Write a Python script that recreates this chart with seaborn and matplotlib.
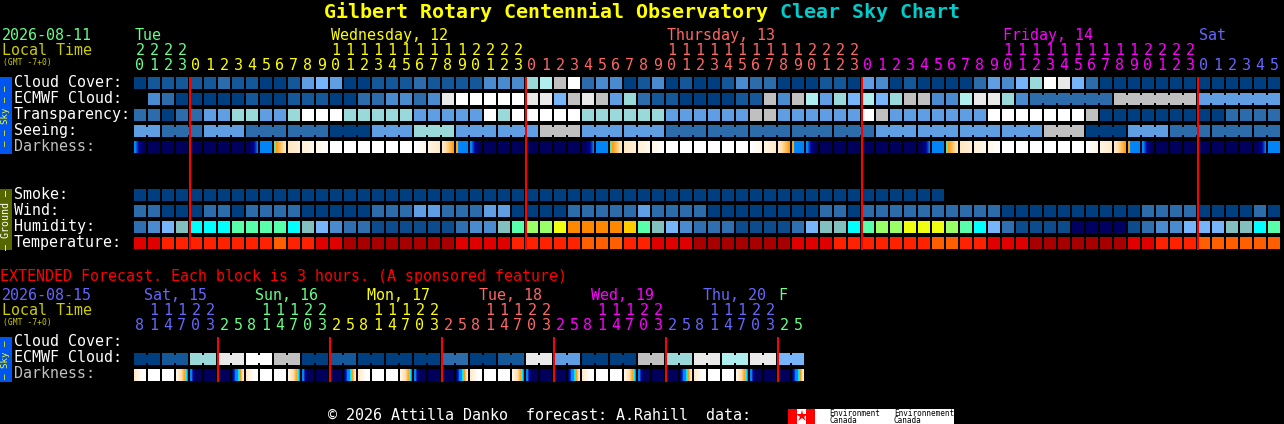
import numpy as np
import matplotlib
matplotlib.use("Agg")
import matplotlib.pyplot as plt
import seaborn as sns
from matplotlib.colors import ListedColormap, LinearSegmentedColormap
from matplotlib.patches import Rectangle

W, H = 1284, 424
FONT = "DejaVu Sans Mono"

# sky scale, dark blue -> white
sky_colors = ["#003f7f", "#14589a", "#2c6cab", "#4a8ace", "#5f9ee2", "#77b5fb",
              "#99d9d9", "#aeeeee", "#c0c0c0", "#e9e9e9", "#ffffff"]
# humidity scale
hum_colors = ["#000060", "#0d4c8c", "#2f6fb0", "#4a8ace", "#77b5fb", "#82c0c0",
              "#00ffff", "#58ffaa", "#99ff66", "#eeff11", "#ffcc00", "#ff8800"]
# temperature scale
temp_colors = ["#a80000", "#e00000", "#ff2200", "#ff5f00"]

day_green, day_yellow, day_salmon, day_magenta, day_blue = "#66ff88", "#ffff00", "#ff6666", "#ff00ff", "#6666ff"

hours = [20, 21, 22, 23, 0, 1, 2, 3, 4, 5, 6, 7, 8, 9, 10, 11, 12, 13, 14, 15, 16, 17, 18, 19,
         20, 21, 22, 23, 0, 1, 2, 3, 4, 5, 6, 7, 8, 9, 10, 11, 12, 13, 14, 15, 16, 17, 18, 19,
         20, 21, 22, 23, 0, 1, 2, 3, 4, 5, 6, 7, 8, 9, 10, 11, 12, 13, 14, 15, 16, 17, 18, 19,
         20, 21, 22, 23, 0, 1, 2, 3, 4, 5]
midnight_cols = [4, 28, 52, 76]
day_labels = [("Tue", 0, day_green), ("Wednesday, 12", 14, day_yellow), ("Thursday, 13", 38, day_salmon),
              ("Friday, 14", 62, day_magenta), ("Sat", 76, day_blue)]

cloud = [0, 1, 1, 1, 1, 1, 2, 1, 1, 0, 0, 1, 4, 5, 4, 0, 0, 1, 1, 1, 2,
         1, 1, 1, 1, 3, 3, 3, 6, 7, 8, 10, 2, 3, 3, 0, 1, 3, 0, 1, 0, 0, 1, 3, 2, 2, 0, 0, 0, 1, 1, 0,
         4, 3, 0, 1, 0, 0, 0, 0, 2, 4, 3, 5, 6, 10, 9, 5, 2, 0, 0, 0, 0, 0, 0, 0, 0, 0, 0, 0, 0, 0]
ecmwf = [None, 3, 2, 0, 0, 0, 0, 0, 1, 0, 0, 1, 1, 1, 0, 0, 2, 2, 3, 3, 2,
         3, 9, 10, 10, 10, 10, 10, 9, 9, 5, 8, 9, 8, 4, 6, 2, 1, 1, 0, 0, 0, 0, 1, 1, 8, 3, 8, 7, 4, 6, 5,
         7, 5, 6, 8, 8, 3, 3, 7, 9, 9, 6, 3, 2, 2, 2, 2, 2, 2, 8, 8, 8, 8, 8, 8, 4, 4, 4, 4, 4, 4]
ecmwf_spans = [(64, 69), (70, 75), (76, 81)]
transparency = [2, 2, 0, 2, 2, 4, 4, 6, 6, 4, 4, 6, 10, 10, 10, 6, 6, 6, 6, 6, 4,
                4, 4, 4, 4, 10, 6, 10, 10, 10, 10, 10, 6, 6, 6, 6, 6, 6, 4, 4, 4, 4, 4, 4, 8, 8, 4, 4, 4, 4, 4, 4,
                10, 8, 4, 4, 4, 4, 4, 4, 4, 10, 10, 10, 10, 10, 10, 10, 8, 0, 0, 0, 0, 0, 0, 0, 0, 0, 2, 2, 2, 2]
seeing_blocks = [4, 2, 4, 2, 2, 0, 4, 6, 4, 4, 8, 4, 4, 2, 2, 2, 2, 2, 4, 4, 4, 4, 8, 0, 4, 2, 2, 2]
seeing_lengths = [2, 3, 3, 3, 3, 3, 3, 3, 3, 3, 3, 3, 3, 3, 3, 3, 3, 3, 3, 3, 3, 3, 3, 3, 3, 3, 3, 2]

smoke = [0] * 58 + [None] * 24
wind = [2, 2, 0, 0, 0, 2, 2, 0, 2, 2, 2, 2, 0, 0, 0, 0, 0, 2, 2, 2, 4,
        4, 2, 2, 2, 4, 4, 0, 0, 0, 0, 2, 2, 2, 2, 2, 4, 2, 2, 2, 2, 0, 0, 0, 0, 0, 0, 0, 0, 2, 2, 0,
        2, 2, 2, 2, 2, 2, 2, 2, 2, 2, 0, 0, 0, 0, 0, 0, 0, 0, 0, 0, 2, 2, 2, 2, 0, 0, 0, 0, 2, 0]
humidity = [2, 3, 4, 5, 6, 6, 6, 7, 7, 7, 7, 6, 5, 4, 3, 2, 2, 1, 1, 1, 1,
            1, 1, 2, 3, 3, 5, 7, 8, 8, 9, 11, 11, 11, 11, 10, 7, 5, 4, 3, 2, 2, 2, 1, 1, 1, 1, 2, 4, 5, 5, 6,
            7, 8, 8, 9, 9, 9, 8, 7, 6, 4, 2, 1, 1, 1, 1, 0, 0, 0, 0, 1, 2, 3, 3, 4, 4, 4, 5, 5, 6, 7]
temperature = [1, 1, 2, 2, 2, 2, 2, 2, 2, 2, 3, 2, 2, 1, 1, 0, 0, 0, 0, 0, 0,
               0, 0, 1, 1, 1, 1, 2, 2, 2, 2, 2, 3, 3, 3, 2, 2, 1, 1, 1, 0, 0, 0, 0, 0, 0, 0, 1, 1, 1, 2, 2,
               2, 2, 2, 2, 2, 3, 3, 2, 2, 1, 1, 1, 0, 0, 0, 0, 0, 0, 0, 1, 1, 2, 2, 2, 3, 3, 3, 3, 3, 3]

# darkness: 0 = full sun, 1 = dark sky, read at 12 spots across each block
dark_stops = [(0.0, "#ffffff"), (0.1, "#fff2dc"), (0.22, "#ffe0b0"), (0.32, "#ffb848"), (0.38, "#ff9a10"),
              (0.42, "#88dd88"), (0.46, "#00e0ff"), (0.5, "#0090ff"), (0.6, "#0078f0"), (0.72, "#0030c0"),
              (0.85, "#000090"), (1.0, "#00005c")]
dark_profiles = {
    "n": [1] * 12,
    "d": [0] * 12,
    "b": [.55] * 12,
    "K": [.52, .55, .65, .72, .8, .85, .9, .93, .96, .98, 1, 1],
    "G": [1, 1, 1, .98, .95, .9, .88, .85, .8, .72, .65, .6],
    "A": [.43, .42, .38, .36, .34, .32, .3, .28, .25, .22, .2, .18],
    "p": [.18, .18, .17, .16, .16, .15, .15, .14, .14, .13, .13, .12],
    "q": [.12, .11, .11, .1, .1, .09, .09, .08, .08, .07, .07, .06],
    "r": [.06, .05, .05, .04, .04, .03, .03, .02, .02, .01, .01, 0],
    "s": [0, 0, .01, .02, .02, .03, .04, .04, .05, .06, .07, .08],
    "t": [.08, .09, .1, .1, .11, .12, .12, .13, .14, .15, .15, .16],
    "u": [.16, .18, .2, .22, .24, .26, .28, .3, .32, .34, .36, .38],
    "E": [.38, .4, .52, .55, .55, .55, .55, .55, .55, .55, .55, .55],
    "w": [.16, .14, .12, .1, .08, .06, .04, .02, .01, 0, 0, 0],
    "x": [.08, .1, .14, .18, .2, .22, .28, .32, .36, .42, .46, .5],
    "y": [.55, .55, .72, .88, .95, 1, 1, 1, 1, 1, 1, 1],
    "z": [.9, .8, .7, .55, .52, .5, .46, .44, .38, .3, .22, .16],
}
darkness = list("KnnnnnnnGbApqrddddddstuE" "KnnnnnnnGbApqrddddddstuE" "KnnnnnnnGbApqrddddddstuE" "KnnnnnnnGb")

# extended forecast
ext_hours = [8, 11, 14, 17, 20, 23, 2, 5, 8, 11, 14, 17, 20, 23, 2, 5, 8, 11, 14, 17, 20, 23, 2, 5,
             8, 11, 14, 17, 20, 23, 2, 5, 8, 11, 14, 17, 20, 23, 2, 5, 8, 11, 14, 17, 20, 23, 2, 5]
ext_midnight_cols = [6, 14, 22, 30, 38, 46]
ext_day_labels = [("Sat, 15", 144, day_blue), ("Sun, 16", 255, day_green), ("Mon, 17", 367, day_yellow),
                  ("Tue, 18", 479, day_salmon), ("Wed, 19", 591, day_magenta), ("Thu, 20", 703, day_blue),
                  ("F", 778, day_green)]
ext_ecmwf_blocks = [0, 1, 6, 9, 10, 8, 0, 1, 0, 0, 0, 2, 0, 1, 9, 4, 0, 0, 8, 6, 9, 7, 9, 5]
ext_darkness = list("wddxynnz" "wddxynnz" "wddxynnz" "wddxynnz" "wddxynnz" "wddxynnz")


def block_spans(lengths):
    edges = np.cumsum([0] + list(lengths))
    return [(a, b - 1) for a, b in zip(edges[:-1], edges[1:])]


def day_color(col, starts):
    color = None
    for first, c in starts:
        if col >= first:
            color = c
    return color


def draw_raster(raster, top, cmap, vmin, vmax):
    # one heatmap cell per screen pixel keeps the 12px squares crisp
    ax = fig.add_axes([133 / W, 1 - (top + 12) / H, raster.shape[1] / W, 12 / H])
    sns.heatmap(raster, ax=ax, cmap=cmap, vmin=vmin, vmax=vmax, cbar=False,
                xticklabels=False, yticklabels=False)
    ax.set_facecolor("black")
    return ax


def cell_row(values, top, colors, spans=None):
    """One row of blocks, 12px squares on a 14px pitch, top is the y of the block."""
    values = np.array(values, dtype=float)
    raster = np.full((12, values.size * 14), np.nan)
    for col, v in enumerate(values):
        raster[:, col * 14 + 1:col * 14 + 13] = v
    # 3 hour blocks are joined by a short bridge with notches above and below
    for first, last in spans or []:
        for col in range(first, last):
            raster[2:10, col * 14 + 13:col * 14 + 15] = values[col]
    return draw_raster(raster, top, ListedColormap(colors), -0.5, len(colors) - 0.5)


def dark_row(kinds, top):
    """Darkness row, every block holds 12 shades."""
    shades = []
    for k in kinds:
        shades += [None] + dark_profiles[k] + [None]
    raster = np.tile(np.array(shades, dtype=float), (12, 1))
    cmap = LinearSegmentedColormap.from_list("dark", dark_stops, N=256)
    return draw_raster(raster, top, cmap, 0, 1)


sns.set_style("dark")
plt.rcParams["font.family"] = [FONT, "DejaVu Sans"]

fig = plt.figure(figsize=(W / 100, H / 100), dpi=100, facecolor="black")

cell_row(cloud, 77, sky_colors)
cell_row(ecmwf, 93, sky_colors, ecmwf_spans)
cell_row(transparency, 109, sky_colors)
cell_row(np.repeat(seeing_blocks, seeing_lengths), 125, sky_colors, block_spans(seeing_lengths))
dark_row(darkness, 141)
cell_row(smoke, 189, sky_colors)
cell_row(wind, 205, sky_colors)
cell_row(humidity, 221, hum_colors)
cell_row(temperature, 237, temp_colors)

cell_row(np.repeat(ext_ecmwf_blocks, 2), 353, sky_colors, [(i, i + 1) for i in range(0, 48, 2)])
dark_row(ext_darkness, 369)

# overlay in pixel coordinates for the text, side bars and red lines
top = fig.add_axes([0, 0, 1, 1], zorder=10)
top.set_xlim(0, W)
top.set_ylim(H, 0)
top.patch.set_alpha(0)
top.axis("off")


def label(x, y, s, color="white", px=15, **kw):
    # y is the baseline of the text
    kw.setdefault("va", "baseline")
    kw.setdefault("ha", "left")
    top.text(x, y, s, color=color, fontsize=px * 0.72, family=FONT, **kw)


label(324, 18.5, "Gilbert Rotary Centennial Observatory", "#ffff00", px=20, fontweight="bold")
label(780, 18.5, "Clear Sky Chart", "#00cccc", px=20, fontweight="bold")

label(2, 40, "2026-08-11", day_green)
label(2, 55, "Local Time", "#cccc00")
label(3, 65.5, "(GMT -7+0)", "#cccc00", px=8)
for text, col, color in day_labels:
    label(135 + col * 14, 40, text, color)

starts = [(0, day_green), (4, day_yellow), (28, day_salmon), (52, day_magenta), (76, day_blue)]
for col, h in enumerate(hours):
    color = day_color(col, starts)
    if h >= 10:
        label(140 + col * 14, 55, str(h // 10), color, ha="center")
    label(140 + col * 14, 70, str(h % 10), color, ha="center")

row_names = [("Cloud Cover:", 87, "white"), ("ECMWF Cloud:", 103, "white"), ("Transparency:", 119, "white"),
             ("Seeing:", 135, "white"), ("Darkness:", 151, "#c0c0c0"), ("Smoke:", 199, "white"),
             ("Wind:", 215, "white"), ("Humidity:", 231, "white"), ("Temperature:", 247, "white"),
             ("Cloud Cover:", 346.5, "white"), ("ECMWF Cloud:", 362.5, "white"), ("Darkness:", 378.5, "#c0c0c0")]
for text, y, color in row_names:
    label(14, y, text, color)

label(0, 281, "EXTENDED Forecast. Each block is 3 hours. (A sponsored feature)", "#ff0000")
label(2, 300, "2026-08-15", day_blue)
label(2, 315, "Local Time", "#cccc00")
label(3, 325, "(GMT -7+0)", "#cccc00", px=8)
for text, x, color in ext_day_labels:
    label(x, 300, text, color)

ext_starts = [(0, day_blue), (6, day_green), (14, day_yellow), (22, day_salmon),
              (30, day_magenta), (38, day_blue), (46, day_green)]
for col, h in enumerate(ext_hours):
    color = day_color(col, ext_starts)
    if h >= 10:
        label(140 + col * 14, 315, str(h // 10), color, ha="center")
    label(140 + col * 14, 330, str(h % 10), color, ha="center")

# side bars
top.add_patch(Rectangle((0, 77), 12, 77, color="#0055ee", lw=0))
top.add_patch(Rectangle((0, 189), 12, 61, color="#556600", lw=0))
top.add_patch(Rectangle((0, 337), 12, 45, color="#0055ee", lw=0))
label(6, 115.5, "\u2013 \u2013 Sky \u2013 \u2013", "#ffff00", px=9.2, rotation=90, ha="center", va="center")
label(6, 219.5, "\u2013 Ground \u2013", "white", px=10, rotation=90, ha="center", va="center")
label(6, 359.5, "\u2013 Sky \u2013", "#ffff00", px=9.2, rotation=90, ha="center", va="center")

# midnight lines
for col in midnight_cols:
    top.add_patch(Rectangle((133 + col * 14, 77), 2, 173, color="#ff0000", lw=0))
for col in ext_midnight_cols:
    top.add_patch(Rectangle((133 + col * 14, 337), 2, 45, color="#ff0000", lw=0))

# footer
label(328, 420.5, "\u00a9 2026 Attilla Danko  forecast: A.Rahill  data:")
top.add_patch(Rectangle((788, 409), 166, 15, color="white", lw=0))
top.add_patch(Rectangle((788, 409), 9, 15, color="#ff0000", lw=0))
top.add_patch(Rectangle((806, 409), 9, 15, color="#ff0000", lw=0))
top.plot([801.5], [416], marker="*", ms=9, color="#ff0000", mew=0)
for x, word in [(829, "Environment"), (894, "Environnement")]:
    label(x, 416, word, "black", px=7.7)
    label(x, 423, "Canada", "black", px=7.7)

fig.savefig("out.png", dpi=100, facecolor="black")
